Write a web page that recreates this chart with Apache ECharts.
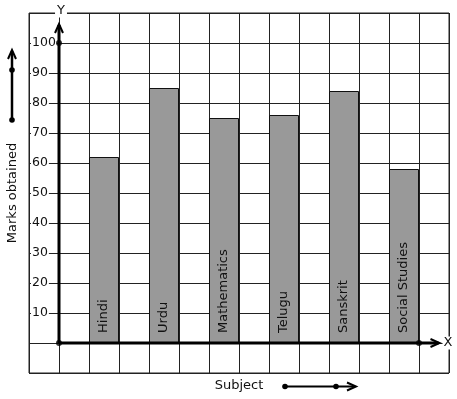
<!DOCTYPE html>
<html><head><meta charset="utf-8">
<script src="https://cdn.jsdelivr.net/npm/echarts@6/dist/echarts.min.js"></script>
<style>html,body{margin:0;padding:0;background:#fff}#c{width:457px;height:399px}</style>
</head><body><div id="c"></div>
<script>
const subjects = ['Hindi', 'Urdu', 'Mathematics', 'Telugu', 'Sanskrit', 'Social Studies'];
const marks = [62, 85, 75, 76, 84, 58];
const yTickLabels = [10, 20, 30, 40, 50, 60, 70, 80, 90, 100];
const xAxisName = 'Subject';
const yAxisName = 'Marks obtained';

const FONT = 'DejaVu Sans';
const chart = echarts.init(document.getElementById('c'), null, {renderer: 'canvas'});

const barData = subjects.map((s, i) => ({name: s, value: [1.5 + 2 * i, marks[i]]}));

chart.setOption({
  animation: false,
  backgroundColor: '#fff',
  grid: {left: 29, right: 8, top: 13, bottom: 26, containLabel: false, outerBoundsMode: 'none',
         show: true, borderColor: '#222', borderWidth: 1, backgroundColor: 'transparent'},
  xAxis: {
    type: 'value', min: -1, max: 13, interval: 1,
    axisLine: {show: false}, axisTick: {show: false}, axisLabel: {show: false},
    splitLine: {show: true, lineStyle: {color: '#222', width: 1}},
    name: xAxisName, nameLocation: 'middle', nameGap: 6,
    nameTextStyle: {fontFamily: FONT, fontSize: 13, color: '#111'}
  },
  yAxis: {
    type: 'value', min: -10, max: 110, interval: 10,
    axisLine: {show: false}, axisTick: {show: false},
    axisLabel: {
      inside: true, margin: 2, fontFamily: FONT, fontSize: 12.5, color: '#111',
      backgroundColor: '#fff', padding: [0, 1, 0, 1],
      formatter: v => yTickLabels.includes(v) ? String(v) : ''
    },
    splitLine: {show: true, lineStyle: {color: '#222', width: 1}},
    name: yAxisName, nameLocation: 'middle', nameGap: 10,
    nameTextStyle: {fontFamily: FONT, fontSize: 13, color: '#111'}
  },
  series: [
    {
      type: 'bar', barWidth: 30, data: barData, z: 3,
      itemStyle: {color: '#999999', borderColor: '#111', borderWidth: 1},
      label: {
        show: true, position: 'insideBottom', rotate: 90, distance: 10,
        align: 'left', verticalAlign: 'middle',
        fontFamily: FONT, fontSize: 13, color: '#111',
        formatter: p => p.name
      }
    },
    {type: 'line', data: [[0, 0], [0, 106]], symbol: 'none', z: 5, lineStyle: {color: '#000', width: 3}},
    {type: 'line', data: [[0, 0], [12.65, 0]], symbol: 'none', z: 5, lineStyle: {color: '#000', width: 3}},
    {type: 'scatter', data: [[0, 0], [0, 100], [12, 0]], symbolSize: 6, z: 6, itemStyle: {color: '#000'}}
  ]
});

const yTip = chart.convertToPixel({gridIndex: 0}, [0, 106]);
const xTip = chart.convertToPixel({gridIndex: 0}, [12.65, 0]);
const g = [];
function chevronUp(x, y) {
  return {type: 'polyline', shape: {points: [[x - 4, y + 9], [x, y], [x + 4, y + 9]]}, style: {stroke: '#000', lineWidth: 2, fill: null}, z: 10};
}
function chevronRight(x, y) {
  return {type: 'polyline', shape: {points: [[x - 9, y - 4], [x, y], [x - 9, y + 4]]}, style: {stroke: '#000', lineWidth: 2, fill: null}, z: 10};
}
function dot(x, y) {
  return {type: 'circle', shape: {cx: x, cy: y, r: 2.8}, style: {fill: '#000'}, z: 10};
}
g.push(chevronUp(yTip[0], yTip[1] - 1));
g.push(chevronRight(xTip[0] + 1, xTip[1]));
g.push({type: 'text', x: yTip[0] + 2, y: 11, style: {text: 'Y', font: '13px "DejaVu Sans"', fill: '#111', align: 'center', verticalAlign: 'middle', backgroundColor: '#fff', padding: [0, 2]}, z: 10});
g.push({type: 'text', x: 448, y: xTip[1], style: {text: 'X', font: '13px "DejaVu Sans"', fill: '#111', align: 'center', verticalAlign: 'middle', backgroundColor: '#fff', padding: [0, 1]}, z: 10});
// left decorative arrow
g.push({type: 'line', shape: {x1: 12, y1: 120, x2: 12, y2: 51}, style: {stroke: '#000', lineWidth: 2.5}, z: 10});
g.push(dot(12, 120));
g.push(dot(12, 70));
g.push(chevronUp(12, 50));
// bottom decorative arrow
g.push({type: 'line', shape: {x1: 285, y1: 386.5, x2: 355, y2: 386.5}, style: {stroke: '#000', lineWidth: 2}, z: 10});
g.push(dot(285, 386.5));
g.push(dot(336, 386.5));
g.push(chevronRight(356, 386.5));
chart.setOption({graphic: g});
</script>
</body></html>
